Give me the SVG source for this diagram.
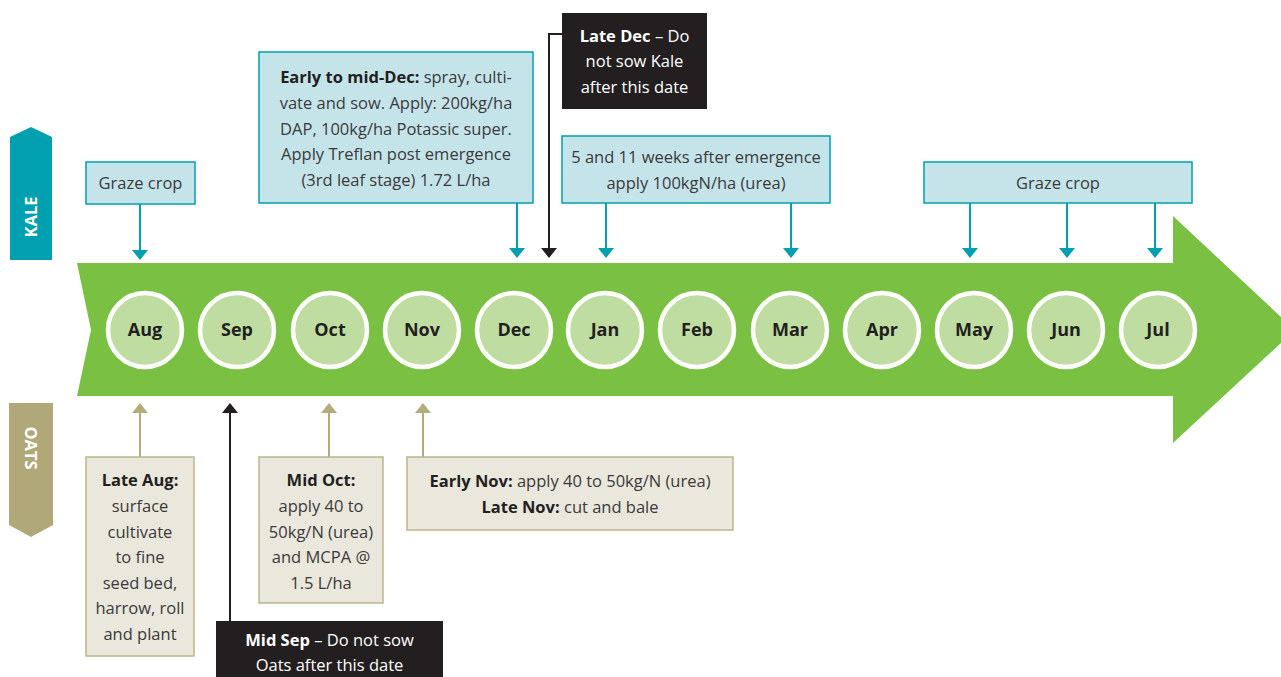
<svg xmlns="http://www.w3.org/2000/svg" width="1281" height="677" viewBox="0 0 1281 677">
<defs>
<style>
.t{font-family:"Open Sans","Noto Sans","Liberation Sans",sans-serif;font-size:16.5px;fill:#3a3a3a;text-anchor:middle}
.b{font-weight:bold;fill:#231F20}
.w{fill:#ffffff}
.wb{font-weight:bold;fill:#ffffff}
.m{font-family:"Open Sans","Noto Sans","Liberation Sans",sans-serif;font-size:18px;font-weight:bold;fill:#231F20;text-anchor:middle}
.kbox{fill:#C5E4EA;stroke:#00A0B0;stroke-width:1.5}
.obox{fill:#EAE7DD;stroke:#BDB58C;stroke-width:1.5}
.dbox{fill:#231F20}
.month{fill:#BFDDA0;stroke:#ffffff;stroke-width:4.5}
.kl{stroke:#00A0B0;stroke-width:2;fill:none}
.ol{stroke:#B5AC7E;stroke-width:2;fill:none}
.dl{stroke:#231F20;stroke-width:2;fill:none}
.kh{fill:#00A0B0}
.oh{fill:#B5AC7E}
.dh{fill:#231F20}
</style>
</defs>
<rect width="1281" height="677" fill="#ffffff"/>

<g id="timeline">
<polygon points="77,263 1173,263 1173,216 1295,330 1173,443 1173,396 77,396 91,330" fill="#7AC143"/>
</g>

<g id="kale-label">
<polygon points="10,137 31,127 52,137 52,260 10,260" fill="#00A0B0"/>
<text class="t wb" transform="translate(37,217) rotate(-90)">KALE</text>
</g>
<g id="oats-label">
<polygon points="9,403 53,403 53,525 31,537 9,525" fill="#B1A87A"/>
<text class="t wb" transform="translate(25,448) rotate(90)">OATS</text>
</g>

<g id="months">
<g id="m-aug"><circle class="month" cx="145" cy="330" r="37"/><text class="m" x="145" y="336">Aug</text></g>
<g id="m-sep"><circle class="month" cx="237" cy="330" r="37"/><text class="m" x="237" y="336">Sep</text></g>
<g id="m-oct"><circle class="month" cx="330" cy="330" r="37"/><text class="m" x="330" y="336">Oct</text></g>
<g id="m-nov"><circle class="month" cx="422" cy="330" r="37"/><text class="m" x="422" y="336">Nov</text></g>
<g id="m-dec"><circle class="month" cx="514" cy="330" r="37"/><text class="m" x="514" y="336">Dec</text></g>
<g id="m-jan"><circle class="month" cx="605" cy="330" r="37"/><text class="m" x="605" y="336">Jan</text></g>
<g id="m-feb"><circle class="month" cx="697" cy="330" r="37"/><text class="m" x="697" y="336">Feb</text></g>
<g id="m-mar"><circle class="month" cx="790" cy="330" r="37"/><text class="m" x="790" y="336">Mar</text></g>
<g id="m-apr"><circle class="month" cx="882" cy="330" r="37"/><text class="m" x="882" y="336">Apr</text></g>
<g id="m-may"><circle class="month" cx="974" cy="330" r="37"/><text class="m" x="974" y="336">May</text></g>
<g id="m-jun"><circle class="month" cx="1066" cy="330" r="37"/><text class="m" x="1066" y="336">Jun</text></g>
<g id="m-jul"><circle class="month" cx="1158" cy="330" r="37"/><text class="m" x="1158" y="336">Jul</text></g>
</g>

<g id="connectors">
<line class="kl" x1="140" y1="204" x2="140" y2="251"/><polygon class="kh" points="132,250 148,250 140,260"/>
<line class="kl" x1="517" y1="203" x2="517" y2="249"/><polygon class="kh" points="509,248 525,248 517,258"/>
<polyline class="dl" points="562,34 549,34 549,249"/><polygon class="dh" points="541,248 557,248 549,258"/>
<line class="kl" x1="606" y1="203" x2="606" y2="249"/><polygon class="kh" points="598,248 614,248 606,258"/>
<line class="kl" x1="791" y1="203" x2="791" y2="249"/><polygon class="kh" points="783,248 799,248 791,258"/>
<line class="kl" x1="970" y1="203" x2="970" y2="249"/><polygon class="kh" points="962,248 978,248 970,258"/>
<line class="kl" x1="1067" y1="203" x2="1067" y2="249"/><polygon class="kh" points="1059,248 1075,248 1067,258"/>
<line class="kl" x1="1155" y1="203" x2="1155" y2="249"/><polygon class="kh" points="1147,248 1163,248 1155,258"/>

<line class="ol" x1="140" y1="457" x2="140" y2="412"/><polygon class="oh" points="132,413 148,413 140,403"/>
<line class="dl" x1="230" y1="621" x2="230" y2="412"/><polygon class="dh" points="222,413 238,413 230,403"/>
<line class="ol" x1="329" y1="457" x2="329" y2="412"/><polygon class="oh" points="321,413 337,413 329,403"/>
<line class="ol" x1="423" y1="457" x2="423" y2="412"/><polygon class="oh" points="415,413 431,413 423,403"/>
</g>

<g id="k-graze1">
<rect class="kbox" x="86" y="162" width="109" height="42"/>
<text class="t" x="140.5" y="189">Graze crop</text>
</g>
<g id="k-dec">
<rect class="kbox" x="259" y="52" width="274" height="151"/>
<text class="t" x="396" y="83"><tspan class="b">Early to mid-Dec:</tspan> spray, culti-</text>
<text class="t" x="396" y="109">vate and sow. Apply: 200kg/ha</text>
<text class="t" x="396" y="135">DAP, 100kg/ha Potassic super.</text>
<text class="t" x="396" y="160">Apply Treflan post emergence</text>
<text class="t" x="396" y="186">(3rd leaf stage) 1.72 L/ha</text>
</g>
<g id="k-latedec">
<rect class="dbox" x="562" y="13" width="145" height="96"/>
<text class="t w" x="634.5" y="42"><tspan class="wb">Late Dec</tspan> – Do</text>
<text class="t w" x="634.5" y="67">not sow Kale</text>
<text class="t w" x="634.5" y="93">after this date</text>
</g>
<g id="k-weeks">
<rect class="kbox" x="562" y="136" width="268" height="67"/>
<text class="t" x="696" y="163">5 and 11 weeks after emergence</text>
<text class="t" x="696" y="189">apply 100kgN/ha (urea)</text>
</g>
<g id="k-graze2">
<rect class="kbox" x="924" y="162" width="268" height="41"/>
<text class="t" x="1058" y="189">Graze crop</text>
</g>

<g id="o-aug">
<rect class="obox" x="86" y="457" width="108" height="199"/>
<text class="t b" x="140" y="486">Late Aug:</text>
<text class="t" x="140" y="512">surface</text>
<text class="t" x="140" y="538">cultivate</text>
<text class="t" x="140" y="563">to fine</text>
<text class="t" x="140" y="589">seed bed,</text>
<text class="t" x="140" y="614">harrow, roll</text>
<text class="t" x="140" y="640">and plant</text>
</g>
<g id="o-oct">
<rect class="obox" x="259" y="457" width="124" height="146"/>
<text class="t b" x="321" y="486">Mid Oct:</text>
<text class="t" x="321" y="512">apply 40 to</text>
<text class="t" x="321" y="538">50kg/N (urea)</text>
<text class="t" x="321" y="563">and MCPA @</text>
<text class="t" x="321" y="589">1.5 L/ha</text>
</g>
<g id="o-nov">
<rect class="obox" x="407" y="457" width="326" height="73"/>
<text class="t" x="570" y="487"><tspan class="b">Early Nov:</tspan> apply 40 to 50kg/N (urea)</text>
<text class="t" x="570" y="513"><tspan class="b">Late Nov:</tspan> cut and bale</text>
</g>
<g id="o-sep">
<rect class="dbox" x="216" y="621" width="227" height="60"/>
<text class="t w" x="329.5" y="646"><tspan class="wb">Mid Sep</tspan> – Do not sow</text>
<text class="t w" x="329.5" y="671">Oats after this date</text>
</g>
</svg>
